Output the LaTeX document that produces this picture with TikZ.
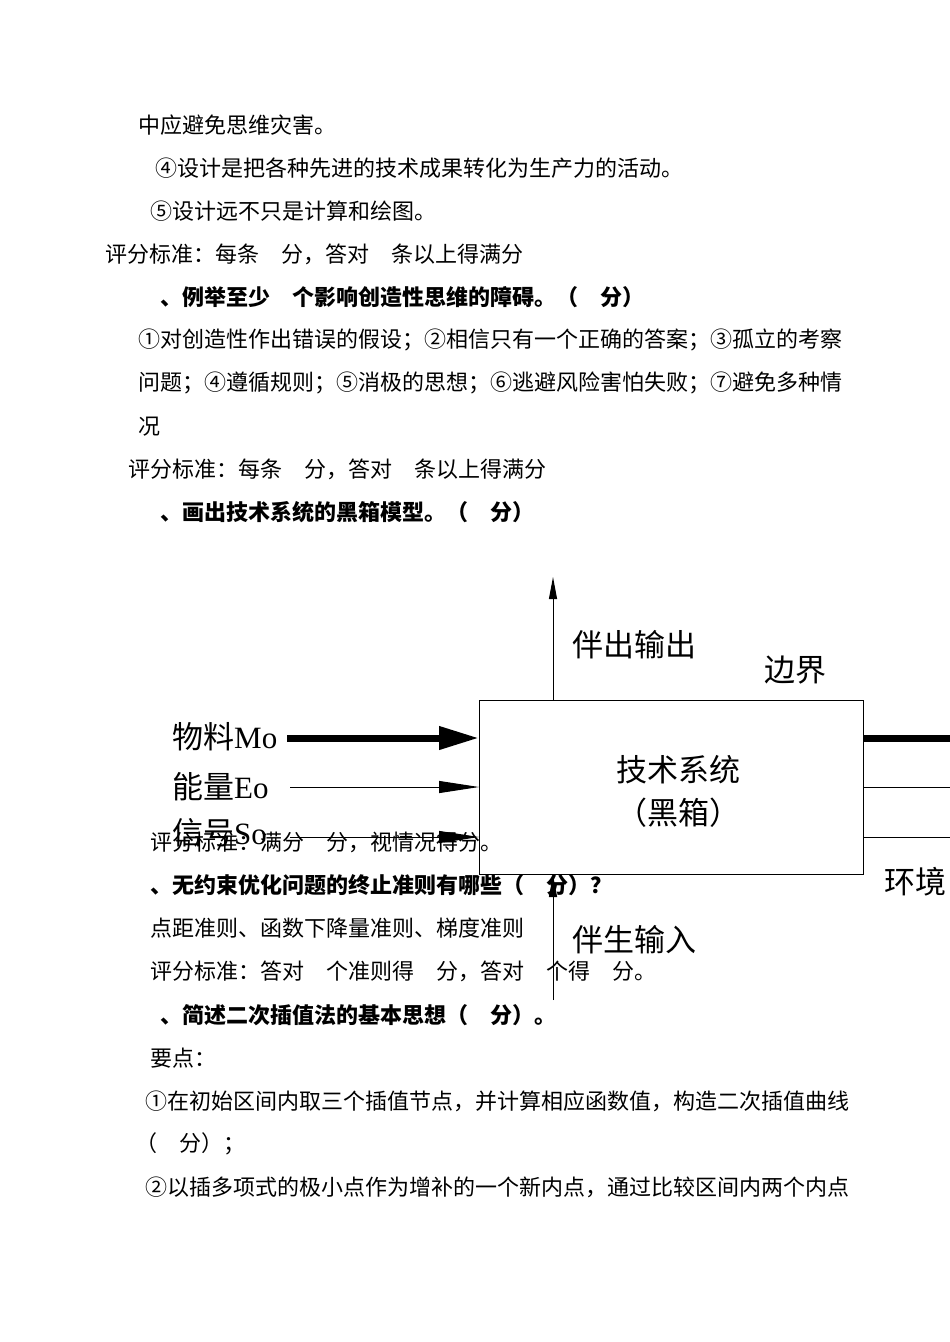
\documentclass[tikz,border=0pt]{standalone}
\usepackage{fontspec}
\setmainfont{Noto Sans CJK SC}
\newfontfamily\lbf{Liberation Serif}
\usetikzlibrary{arrows.meta}
\tikzset{
  tx/.style={anchor=west,inner sep=0pt,font=\fontsize{22}{24}\selectfont},
  bx/.style={tx,font=\fontsize{22}{24}\selectfont\bfseries},
  lb/.style={inner sep=0pt,font=\fontsize{31}{33}\selectfont},
  thin/.style={line width=1pt},
  thick2/.style={line width=7pt},
}
\begin{document}
\begin{tikzpicture}[x=1pt,y=-1pt]
\useasboundingbox (0,0) rectangle (950,1342);
\fill[white] (0,0) rectangle (950,1342);
% diagram
\node[draw,thin,minimum width=384,minimum height=174,anchor=north west,inner sep=0pt] (box) at (479,700) {};
\node[lb] (t1) at (678,770) {技术系统};
\node[lb] (t2) at (678,813) {（黑箱）};
\coordinate (mo) at (287,738);
\coordinate (eo) at (290,787);
\coordinate (so) at (290,837);
\draw[thick2,-{Triangle[length=40pt,width=22pt]}] (mo) -- (box.west |- mo);
\draw[thin,-{Triangle[length=40pt,width=12pt]}] (eo) -- (box.west |- eo);
\draw[thin,-{Triangle[length=40pt,width=12pt]}] (so) -- (box.west |- so);
\coordinate (r1) at (950,738);
\coordinate (r2) at (950,787);
\coordinate (r3) at (950,837);
\draw[thick2] (box.east |- r1) -- (r1);
\draw[thin] (box.east |- r2) -- (r2);
\draw[thin] (box.east |- r3) -- (r3);
\coordinate (up) at (553,577);
\coordinate (dn) at (553,1000);
\draw[thin,-{Triangle[length=22pt,width=8pt]}] (box.north -| up) -- (up);
\draw[thin,-{Triangle[length=22pt,width=8pt]}] (dn) -- (box.south -| dn);
\node[lb,anchor=west] (l1) at (172,737) {物料{\lbf Mo}};
\node[lb,anchor=west] (l2) at (172,787) {能量{\lbf Eo}};
\node[lb,anchor=west] (l3) at (172,833) {信号{\lbf So}};
\node[lb,anchor=west] (o1) at (572,645) {伴出输出};
\node[lb,anchor=west] (o2) at (764,670) {边界};
\node[lb,anchor=west] (o3) at (884,882) {环境};
\node[lb,anchor=west] (o4) at (572,940) {伴生输入};
% text
\node[tx] (a1) at (138,125) {中应避免思维灾害。};
\node[tx] (a2) at (155,168) {④设计是把各种先进的技术成果转化为生产力的活动。};
\node[tx] (a3) at (150,211) {⑤设计远不只是计算和绘图。};
\node[tx] (a4) at (105,254) {评分标准：每条\hspace{1em}分，答对\hspace{1em}条以上得满分};
\node[bx] (a5) at (160,297) {、例举至少\hspace{1em}个影响创造性思维的障碍。（\hspace{1em}分）};
\node[tx] (a6) at (138,340) {①对创造性作出错误的假设；②相信只有一个正确的答案；③孤立的考察};
\node[tx] (a7) at (138,383) {问题；④遵循规则；⑤消极的思想；⑥逃避风险害怕失败；⑦避免多种情};
\node[tx] (a8) at (138,427) {况};
\node[tx] (a9) at (128,469) {评分标准：每条\hspace{1em}分，答对\hspace{1em}条以上得满分};
\node[bx] (a10) at (160,512) {、画出技术系统的黑箱模型。（\hspace{1em}分）};
\node[tx] (b1) at (150,842) {评分标准：满分\hspace{1em}分，视情况得分。};
\node[bx] (b2) at (150,885) {、无约束优化问题的终止准则有哪些（\hspace{1em}分）？};
\node[tx] (b3) at (150,928) {点距准则、函数下降量准则、梯度准则};
\node[tx] (b4) at (150,971) {评分标准：答对\hspace{1em}个准则得\hspace{1em}分，答对\hspace{1em}个得\hspace{1em}分。};
\node[bx] (b5) at (160,1015) {、简述二次插值法的基本思想（\hspace{1em}分）。};
\node[tx] (b6) at (150,1058) {要点：};
\node[tx] (b7) at (145,1101) {①在初始区间内取三个插值节点，并计算相应函数值，构造二次插值曲线};
\node[tx] (b8) at (135,1144) {（\hspace{1em}分）；};
\node[tx] (b9) at (145,1187) {②以插多项式的极小点作为增补的一个新内点，通过比较区间内两个内点};
\end{tikzpicture}
\end{document}
